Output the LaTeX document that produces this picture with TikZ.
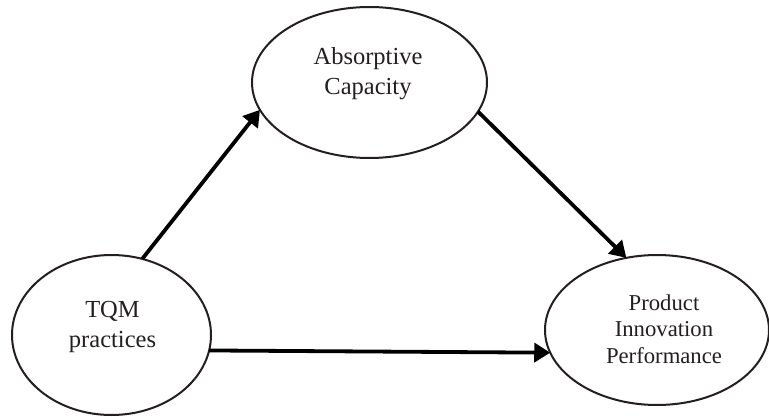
\documentclass[tikz,border=0pt]{standalone}
\usepackage{fontspec}
\setmainfont{Liberation Serif}
\usetikzlibrary{shapes.geometric,arrows.meta}
\definecolor{inkline}{HTML}{231F20}
\begin{document}
\begin{tikzpicture}[x=1pt,y=-1pt,
  oval/.style={draw=inkline, line width=2pt, ellipse, inner sep=0pt, outer sep=0pt},
  lbl/.style={align=center, inner sep=0pt, text=inkline, font=\fontsize{24.5pt}{30pt}\selectfont},
  lbls/.style={align=center, inner sep=0pt, text=inkline, font=\fontsize{22.7pt}{26.5pt}\selectfont},
  link/.style={line width=3.8pt, -{Triangle[length=16pt,width=19pt]}}]
\useasboundingbox (0,0) rectangle (769,417);
\node[oval, minimum width=235pt, minimum height=151pt] (ac) at (369.5,82.5) {};
\node[oval, minimum width=199pt, minimum height=160pt] (tqm) at (111.5,335) {};
\node[oval, minimum width=224pt, minimum height=150pt] (pip) at (657,330) {};
\node[lbl] (actext) at (368,74) {Absorptive\\Capacity};
\node[lbl] (tqmtext) at (112.5,327) {TQM\\practices};
\node[lbls] (piptext) at (664,329) {Product\\Innovation\\Performance};
\draw[link] (tqm.68) -- (ac.194);
\draw[link] (ac.345) -- (pip.113.7);
\draw[link] (tqm.-9.5) -- (pip.192.5);
\end{tikzpicture}
\end{document}
